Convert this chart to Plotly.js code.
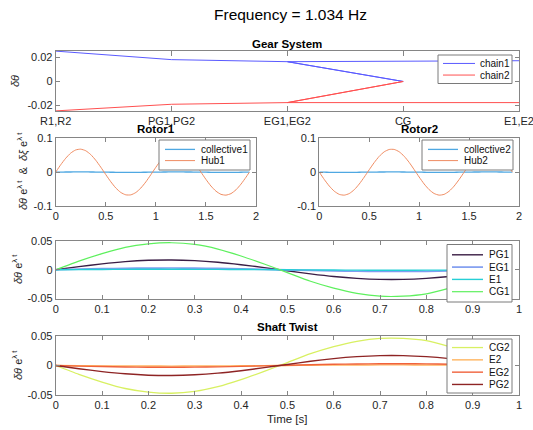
<!DOCTYPE html>
<html>
<head>
<meta charset="utf-8">
<script src="https://cdn.plot.ly/plotly-3.0.1.min.js"></script>
<style>html,body{margin:0;padding:0;background:#fff;}#chart{width:533px;height:430px;}</style>
</head>
<body>
<div id="chart"></div>
<script>
// ---- Gear System ----
const gearNodes = ['R1,R2','PG1,PG2','EG1,EG2','CG','E1,E2'];
const chainPath = ['R1,R2','PG1,PG2','EG1,EG2','CG','EG1,EG2','E1,E2'];
const chain1 = [0.0253, 0.0182, 0.0165, 0.0, 0.0165, 0.0173];
const chain2 = [-0.0245, -0.0190, -0.0176, 0.0, -0.0176, -0.0176];

// ---- Rotors ----
const tRotor = [0,0.05,0.1,0.15,0.2,0.25,0.3,0.35,0.4,0.45,0.5,0.55,0.6,0.65,0.7,0.75,0.8,0.85,0.9,0.95,
                1.0,1.05,1.1,1.15,1.2,1.25,1.3,1.35,1.4,1.45,1.5,1.55,1.6,1.65,1.7,1.75,1.8,1.85,1.9,1.934];
const hub1 = [0,0.0217,0.0411,0.0563,0.0656,0.0679,0.0632,0.0519,0.0351,0.0147,-0.0072,-0.0283,-0.0467,-0.0600,-0.0670,-0.0671,-0.0602,-0.0469,-0.0288,-0.0075,
              0.0144,0.0349,0.0517,0.0631,0.0679,0.0656,0.0564,0.0413,0.0219,0.0003,-0.0214,-0.0409,-0.0561,-0.0655,-0.0679,-0.0634,-0.0522,-0.0354,-0.0150,0];
const hub2 = [0,-0.0217,-0.0411,-0.0563,-0.0656,-0.0679,-0.0632,-0.0519,-0.0351,-0.0147,0.0072,0.0283,0.0467,0.0600,0.0670,0.0671,0.0602,0.0469,0.0288,0.0075,
              -0.0144,-0.0349,-0.0517,-0.0631,-0.0679,-0.0656,-0.0564,-0.0413,-0.0219,-0.0003,0.0214,0.0409,0.0561,0.0655,0.0679,0.0634,0.0522,0.0354,0.0150,0];
const collective1 = [0,0.0002,0.0004,0.0005,0.0006,0.0006,0.0006,0.0005,0.0003,0.0001,-0.0001,-0.0003,-0.0004,-0.0005,-0.0006,-0.0006,-0.0006,-0.0004,-0.0003,-0.0001,
                     0.0001,0.0003,0.0005,0.0006,0.0006,0.0006,0.0005,0.0004,0.0002,0,-0.0002,-0.0004,-0.0005,-0.0006,-0.0006,-0.0006,-0.0005,-0.0003,-0.0001,0];
const collective2 = [0,-0.0002,-0.0004,-0.0005,-0.0006,-0.0006,-0.0006,-0.0005,-0.0003,-0.0001,0.0001,0.0003,0.0004,0.0005,0.0006,0.0006,0.0006,0.0004,0.0003,0.0001,
                     -0.0001,-0.0003,-0.0005,-0.0006,-0.0006,-0.0006,-0.0005,-0.0004,-0.0002,0,0.0002,0.0004,0.0005,0.0006,0.0006,0.0006,0.0005,0.0003,0.0001,0];

// ---- Shaft twist ----
const tShaft = [0,0.05,0.1,0.15,0.2,0.25,0.3,0.35,0.4,0.45,0.5,0.55,0.6,0.65,0.7,0.75,0.8,0.85,0.9,0.95,0.967];
const pg1 = [0,0.0054,0.0103,0.0141,0.0164,0.0170,0.0158,0.0130,0.0088,0.0037,-0.0018,-0.0071,-0.0117,-0.0150,-0.0168,-0.0168,-0.0150,-0.0117,-0.0072,-0.0019,0];
const eg1 = [0,0.0010,0.0018,0.0025,0.0029,0.0030,0.0028,0.0023,0.0015,0.0006,-0.0003,-0.0012,-0.0021,-0.0026,-0.0030,-0.0030,-0.0027,-0.0021,-0.0013,-0.0003,0];
const e1  = [0,0.0003,0.0005,0.0007,0.0008,0.0008,0.0007,0.0006,0.0004,0.0002,-0.0001,-0.0003,-0.0005,-0.0007,-0.0008,-0.0008,-0.0007,-0.0006,-0.0003,-0.0001,0];
const cg1 = [0,0.015,0.028,0.039,0.045,0.047,0.044,0.036,0.024,0.010,-0.005,-0.020,-0.032,-0.041,-0.046,-0.046,-0.042,-0.032,-0.020,-0.005,0];
const cg2 = [0,-0.015,-0.028,-0.039,-0.045,-0.047,-0.044,-0.036,-0.024,-0.010,0.005,0.020,0.032,0.041,0.046,0.046,0.042,0.032,0.020,0.005,0];
const e2  = [0,-0.0003,-0.0006,-0.0008,-0.0009,-0.0010,-0.0009,-0.0008,-0.0005,-0.0002,0.0001,0.0004,0.0007,0.0009,0.0010,0.0010,0.0009,0.0007,0.0004,0.0001,0];
const eg2 = [0,-0.0010,-0.0018,-0.0025,-0.0029,-0.0030,-0.0028,-0.0023,-0.0015,-0.0006,0.0003,0.0012,0.0021,0.0026,0.0030,0.0030,0.0027,0.0021,0.0013,0.0003,0];
const pg2 = [0,-0.0054,-0.0103,-0.0141,-0.0164,-0.0170,-0.0158,-0.0130,-0.0088,-0.0037,0.0018,0.0071,0.0117,0.0150,0.0168,0.0168,0.0150,0.0117,0.0072,0.0019,0];

const W = 533, H = 430;
const px = v => v / W, py = v => 1 - v / H;
const FONT = 'Liberation Sans, Arial, Helvetica, sans-serif';
const axCol = '#858585';

function sline(x, y, name, color, width, xa, ya, shape) {
  return {x: x, y: y, name: name, type: 'scatter', mode: 'lines',
          line: {color: color, width: width, shape: shape || 'spline', smoothing: 0.6},
          xaxis: xa, yaxis: ya, hoverinfo: 'skip', showlegend: false};
}

const gearTraces = [
  sline(chainPath, chain1, 'chain1', '#5a5aff', 1, 'x', 'y', 'linear'),
  sline(chainPath, chain2, 'chain2', '#ff5050', 1, 'x', 'y', 'linear')];
const rotor1Traces = [
  sline(tRotor, collective1, 'collective1', '#4fa8e2', 1.3, 'x2', 'y2'),
  sline(tRotor, hub1, 'Hub1', '#ef8c62', 1, 'x2', 'y2')];
const rotor2Traces = [
  sline(tRotor, collective2, 'collective2', '#4fa8e2', 1.3, 'x3', 'y3'),
  sline(tRotor, hub2, 'Hub2', '#ef8c62', 1, 'x3', 'y3')];
const shaft1Traces = [
  sline(tShaft, pg1, 'PG1', '#3a1d45', 1.4, 'x4', 'y4'),
  sline(tShaft, eg1, 'EG1', '#809df0', 1.7, 'x4', 'y4'),
  sline(tShaft, e1, 'E1', '#26cfd6', 1.4, 'x4', 'y4'),
  sline(tShaft, cg1, 'CG1', '#5ef05e', 1.2, 'x4', 'y4')];
const shaft2Traces = [
  sline(tShaft, cg2, 'CG2', '#d8f062', 1.3, 'x5', 'y5'),
  sline(tShaft, e2, 'E2', '#ffb560', 1.4, 'x5', 'y5'),
  sline(tShaft, eg2, 'EG2', '#f0623c', 1.4, 'x5', 'y5'),
  sline(tShaft, pg2, 'PG2', '#8e2424', 1.4, 'x5', 'y5')];

const data = [].concat(gearTraces, rotor1Traces, rotor2Traces, shaft1Traces, shaft2Traces);

function axis(dom, range, extra) {
  return Object.assign({
    domain: dom, range: range, showgrid: false, zeroline: false,
    showline: true, mirror: 'ticks', linecolor: axCol, linewidth: 1,
    ticks: 'inside', ticklen: 4, tickcolor: axCol, tickwidth: 1,
    tickfont: {family: FONT, size: 11, color: '#262626'}, fixedrange: true
  }, extra || {});
}

const tick01 = {tickvals: [0,0.1,0.2,0.3,0.4,0.5,0.6,0.7,0.8,0.9,1], ticktext: ['0','0.1','0.2','0.3','0.4','0.5','0.6','0.7','0.8','0.9','1']};
const tick02 = {tickvals: [0,0.5,1,1.5,2], ticktext: ['0','0.5','1','1.5','2']};
const yt1 = {tickvals: [-0.1,0,0.1], ticktext: ['-0.1','0','0.1']};
const yt05 = {tickvals: [-0.05,0,0.05], ticktext: ['-0.05','0','0.05']};
const yt02 = {tickvals: [-0.02,0,0.02], ticktext: ['-0.02','0','0.02']};

function ann(text, x, y, size, opts) {
  return Object.assign({text: text, x: px(x), y: py(y), xref: 'paper', yref: 'paper',
    showarrow: false, xanchor: 'center', yanchor: 'middle',
    font: {family: FONT, size: size, color: '#000'}}, opts || {});
}

// legend boxes built from the trace names/colours (MATLAB-style compact legend)
const shapes = [], annotations = [];
function legendBox(traces, box) {
  shapes.push({type: 'rect', xref: 'paper', yref: 'paper',
    x0: px(box.x0), x1: px(box.x1), y0: py(box.y1), y1: py(box.y0),
    fillcolor: '#ffffff', line: {color: '#7a7a7a', width: 1}});
  const n = traces.length;
  const pad = (box.y1 - box.y0 - n * box.rowH) / 2;
  traces.forEach((tr, i) => {
    const yy = box.y0 + pad + (i + 0.5) * box.rowH;
    shapes.push({type: 'line', xref: 'paper', yref: 'paper',
      x0: px(box.lx0), x1: px(box.lx1), y0: py(yy), y1: py(yy),
      line: {color: tr.line.color, width: tr.line.width}});
    annotations.push({text: tr.name, xref: 'paper', yref: 'paper', x: px(box.tx), y: py(yy),
      xanchor: 'left', yanchor: 'middle', showarrow: false,
      font: {family: FONT, size: 10, color: '#111'}});
  });
}
legendBox(gearTraces,   {x0: 438, x1: 512, y0: 55, y1: 83.5, rowH: 11.6, lx0: 443, lx1: 475, tx: 478});
legendBox(rotor1Traces, {x0: 159, x1: 250, y0: 140, y1: 170, rowH: 11.2, lx0: 165, lx1: 195, tx: 199});
legendBox(rotor2Traces, {x0: 422, x1: 513, y0: 140, y1: 170, rowH: 11.2, lx0: 428, lx1: 458, tx: 462});
legendBox(shaft1Traces, {x0: 447, x1: 512, y0: 244.5, y1: 302, rowH: 12.3, lx0: 452, lx1: 483, tx: 487});
legendBox(shaft2Traces, {x0: 447, x1: 512, y0: 339, y1: 393, rowH: 12.3, lx0: 452, lx1: 483, tx: 487});

const labelFont = {family: FONT, size: 11, color: '#262626'};
annotations.push(
  ann('Frequency = 1.034 Hz', 290, 15, 15.5),
  ann('<b>Gear System</b>', 287, 44, 11.5),
  ann('<b>Rotor1</b>', 156, 129, 11.5),
  ann('<b>Rotor2</b>', 419, 129, 11.5),
  ann('<b>Shaft Twist</b>', 287, 327, 11.5),
  ann('Time [s]', 287, 419, 11.5, {font: {family: FONT, size: 11.5, color: '#262626'}}),
  ann('<i>δθ</i>', 15, 81, 11, {textangle: -90, font: labelFont}),
  ann('<i>δθ</i> e<sup>λ t</sup>  &  <i>δξ</i> e<sup>λ t</sup>', 22, 171, 11, {textangle: -90, font: labelFont}),
  ann('<i>δθ</i> e<sup>λ t</sup>', 17, 269, 11, {textangle: -90, font: labelFont}),
  ann('<i>δθ</i> e<sup>λ t</sup>', 17, 365, 11, {textangle: -90, font: labelFont})
);

const layout = {
  width: W, height: H, margin: {l: 0, r: 0, t: 0, b: 0},
  paper_bgcolor: '#fff', plot_bgcolor: '#fff', showlegend: false,
  font: {family: FONT},
  xaxis: axis([px(55.7), px(519)], [0, 4], {type: 'category', categoryarray: gearNodes, categoryorder: 'array', ticklen: 5}),
  yaxis: axis([py(111), py(51)], [-0.0246, 0.0254], yt02),
  xaxis2: axis([px(55.7), px(256)], [0, 2], Object.assign({anchor: 'y2'}, tick02)),
  yaxis2: axis([py(206), py(138.3)], [-0.1, 0.1], Object.assign({anchor: 'x2'}, yt1)),
  xaxis3: axis([px(319.3), px(519)], [0, 2], Object.assign({anchor: 'y3'}, tick02)),
  yaxis3: axis([py(206), py(138.3)], [-0.1, 0.1], Object.assign({anchor: 'x3'}, yt1)),
  xaxis4: axis([px(55.7), px(519)], [0, 1], Object.assign({anchor: 'y4'}, tick01)),
  yaxis4: axis([py(298.5), py(241)], [-0.05, 0.05], Object.assign({anchor: 'x4'}, yt05)),
  xaxis5: axis([px(55.7), px(519)], [0, 1], Object.assign({anchor: 'y5'}, tick01)),
  yaxis5: axis([py(395), py(336)], [-0.05, 0.05], Object.assign({anchor: 'x5'}, yt05)),
  shapes: shapes,
  annotations: annotations
};

Plotly.newPlot('chart', data, layout, {staticPlot: true, displayModeBar: false});
</script>
</body>
</html>
